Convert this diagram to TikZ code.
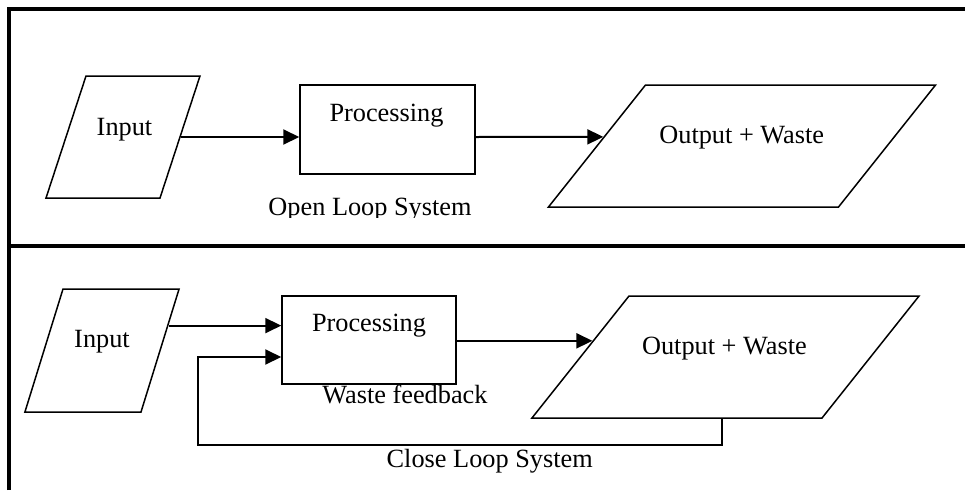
\documentclass[tikz,border=0pt]{standalone}
\usepackage{fontspec}
\setmainfont{Liberation Serif}
\usetikzlibrary{arrows.meta,calc,shapes.geometric}

\begin{document}
\begin{tikzpicture}[x=1pt,y=-1pt]
    \tikzstyle{every node}=[font=\fontsize{26.3}{30}\selectfont]
    \tikzstyle{data box}=[trapezium,draw,line width=1.5pt]
    \tikzstyle{proc box}=[rectangle,draw,line width=1.5pt,inner sep=0pt]
    \tikzstyle{flow}=[line width=2pt,-{Triangle[length=16pt,width=15pt]}]
    \tikzstyle{frame}=[line width=3.5pt]
    \useasboundingbox (0,0) rectangle (965,490);
    % table lines
    \draw[frame] (9,490) -- (9,9) -- (965,9);
    \draw[frame] (9,246) -- (965,246);
    % open loop
    \node(in1)[data box,trapezium left angle=71.85,trapezium right angle=108.15,
        inner xsep=37pt,inner ysep=61pt] at (123,137) {};
    \node(proc1)[proc box,minimum width=175pt,minimum height=89pt] at (387.5,129.5) {};
    \node(out1)[data box,trapezium left angle=51.5,trapezium right angle=128.5,
        inner xsep=96.5pt,inner ysep=61pt] at (742,146) {};
    \node(in1txt)[anchor=base] at (124.5,135) {Input};
    \node(proc1txt)[anchor=base] at (386.5,121.7) {Processing};
    \node(out1txt)[anchor=base] at (741.7,143) {Output + Waste};
    \begin{scope}
        \clip (0,0) rectangle (965,217);
        \node(open)[anchor=base] at (370,215.5) {Open Loop System};
    \end{scope}
    \coordinate (out1in) at ($(out1.top left corner)!.426!(out1.bottom left corner)$);
    \draw[flow] (in1.east) -- (in1.east -| proc1.west);
    \draw[flow] (proc1.east |- in1.east) -- (out1in);
    % close loop
    \node(in2)[data box,trapezium left angle=72.8,trapezium right angle=107.2,
        inner xsep=39pt,inner ysep=61.5pt] at (102,350.5) {};
    \node(proc2)[proc box,minimum width=174pt,minimum height=88pt] at (369,340) {};
    \node(out2)[data box,trapezium left angle=51.5,trapezium right angle=128.5,
        inner xsep=96.5pt,inner ysep=61pt] at (725.5,357) {};
    \node(in2txt)[anchor=base] at (102,347) {Input};
    \node(proc2txt)[anchor=base] at (369,331) {Processing};
    \node(out2txt)[anchor=base] at (724.4,354) {Output + Waste};
    \node(feedback)[anchor=base] at (405,403) {Waste feedback};
    \node(close)[anchor=base] at (489.7,467) {Close Loop System};
    \coordinate (in2out) at ($(in2.top right corner)!.3!(in2.bottom right corner)$);
    \coordinate (out2in) at ($(out2.top left corner)!.369!(out2.bottom left corner)$);
    \coordinate (fbin) at ([yshift=-17pt]proc2.west);
    \coordinate (fbturn) at (198,445);
    \draw[flow] (in2out) -- (in2out -| proc2.west);
    \draw[flow] (proc2.east |- out2in) -- (out2in);
    \draw[flow] ([xshift=-4pt]out2.south) |- (fbturn) |- (fbin);
\end{tikzpicture}
\end{document}
